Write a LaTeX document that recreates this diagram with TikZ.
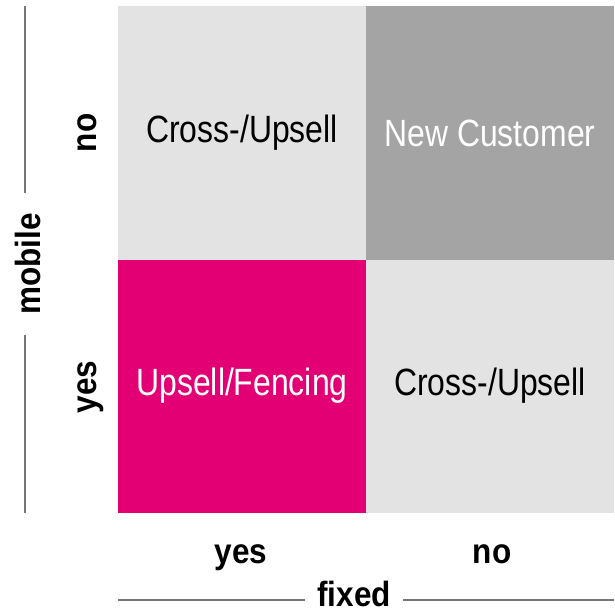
\documentclass[tikz,border=0pt]{standalone}
\usepackage{fontspec}
\setmainfont{Liberation Sans}
\newfontfamily\cellfont[FakeStretch=0.84]{Liberation Sans}
\newfontfamily\axisfont[FakeStretch=0.9]{Liberation Sans}
\usetikzlibrary{positioning}

\definecolor{tkLightGray}{HTML}{E3E3E3}
\definecolor{tkDarkGray}{HTML}{A4A4A4}
\definecolor{tkMagenta}{HTML}{E20074}
\definecolor{tkLine}{HTML}{777777}

\begin{document}
\begin{tikzpicture}[
  x=1pt, y=-1pt,
  cell/.style={minimum width=248pt, minimum height=253pt, inner sep=0pt,
               font=\cellfont\fontsize{38}{40}\selectfont},
  axislabel/.style={font=\axisfont\bfseries\fontsize{35}{38}\selectfont,
                    inner sep=0pt, anchor=base},
  axisline/.style={draw=tkLine, line width=1.8pt}
]
  \useasboundingbox (0,0) rectangle (614,615);

  % ---- the four cells ----
  \node[cell, fill=tkLightGray] (noyes) at (242,133) {Cross-/Upsell};
  \node[cell, fill=tkDarkGray, text=white] (nono) at (490,133) {New Customer};
  \node[cell, fill=tkMagenta, text=white] (yesyes) at (242,386) {Upsell/Fencing};
  \node[cell, fill=tkLightGray] (yesno) at (490,386) {Cross-/Upsell};

  % ---- mobile axis (left) ----
  \node[axislabel, rotate=90] (mno) at (96,133) {no};
  \node[axislabel, rotate=90] (myes) at (96,387) {yes};
  \node[axislabel, rotate=90, inner xsep=20pt] (mobile) at (40,264) {mobile};
  \coordinate (mtop) at (25,6);
  \coordinate (mbot) at (25,513);
  \draw[axisline] (mtop) -- (mtop |- mobile.east);
  \draw[axisline] (mbot |- mobile.west) -- (mbot);

  % ---- fixed axis (bottom) ----
  \node[axislabel] (fyes) at (241,563) {yes};
  \node[axislabel] (fno) at (492,563) {no};
  \node[axislabel, inner xsep=12pt] (fixed) at (354,606) {fixed};
  \coordinate (fleft) at (118,600);
  \coordinate (fright) at (614,600);
  \draw[axisline] (fleft) -- (fleft -| fixed.west);
  \draw[axisline] (fright -| fixed.east) -- (fright);
\end{tikzpicture}
\end{document}
